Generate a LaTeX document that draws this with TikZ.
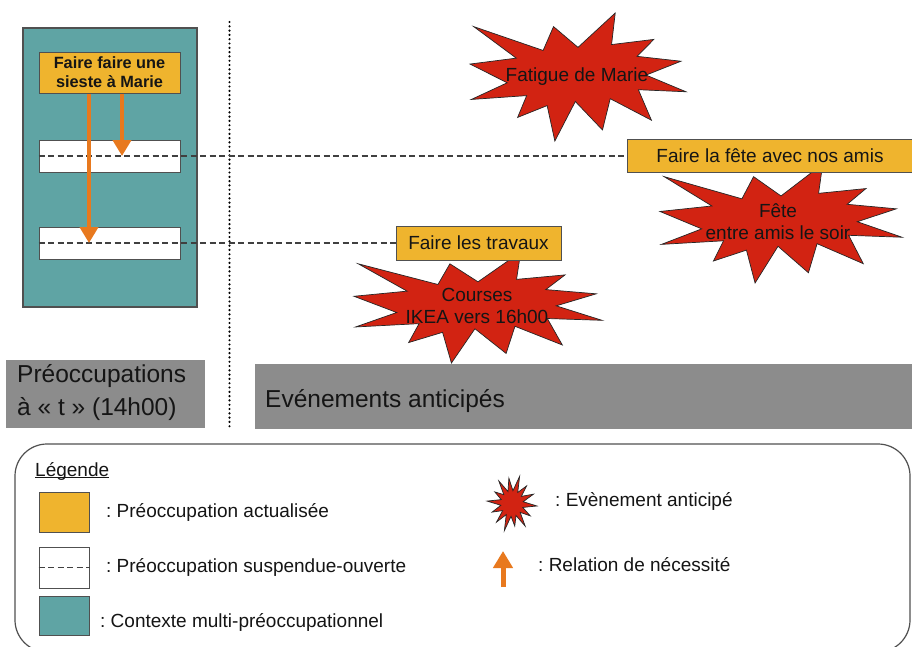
\documentclass[tikz,border=0pt]{standalone}
\usepackage{fontspec}
\setmainfont{Liberation Sans}
\usetikzlibrary{arrows.meta}
\frenchspacing
\definecolor{prefill}{HTML}{EFB42E}
\definecolor{starred}{HTML}{D22312}
\definecolor{ctxteal}{HTML}{5FA4A4}
\definecolor{greybar}{HTML}{8C8C8C}
\definecolor{arroworange}{HTML}{E8791E}
\definecolor{edgegray}{HTML}{505050}
\definecolor{txt}{HTML}{151515}

\newcommand\sealone[4]{%
  \begin{scope}[shift={(#1,#2)}, xscale=#3/216, yscale=#4/216]
    \filldraw[sealfill] (108,58) -- (145.22,0) -- (141.55,53.25) -- (183.80,44.57) -- (167.02,73.15)
      -- (210.97,81.37) -- (176.07,104.75) -- (216,132.90) -- (168.37,129.42) -- (181.45,180.95)
      -- (140.20,144.57) -- (132.47,197.37) -- (105.32,149.35) -- (84.85,216) -- (77.15,156.27)
      -- (47.62,176.17) -- (56.67,139.37) -- (1.35,145.87) -- (37.22,117.75) -- (0,86.15)
      -- (46.27,76.17) -- (3.70,22.95) -- (73.12,63.20) -- (83.52,22.95) -- cycle;
  \end{scope}}
\newcommand\sealsmall[4]{% centre x, centre y, half width, half height
  \begin{scope}[shift={(#1,#2)}, xscale=#3, yscale=#4]
    \filldraw[sealfill] (5:1.0) -- (17.8:0.45) -- (30.7:0.85) -- (43.5:0.45) -- (56.4:0.95)
      -- (69.2:0.45) -- (82.1:0.8) -- (95:0.45) -- (107.8:1.0) -- (120.6:0.45) -- (133.5:0.9)
      -- (146.3:0.45) -- (159.2:0.85) -- (172:0.45) -- (184.9:1.0) -- (197.7:0.45) -- (210.6:0.8)
      -- (223.4:0.45) -- (236.3:0.95) -- (249.1:0.45) -- (262:0.9) -- (274.8:0.45) -- (287.7:1.0)
      -- (300.5:0.45) -- (313.4:0.85) -- (326.2:0.45) -- (339.1:0.92) -- (352:0.45) -- cycle;
  \end{scope}}

\tikzset{
  prebox/.style={draw=edgegray, line width=1pt, fill=prefill, inner sep=0pt, text=txt,
    font=\fontsize{19}{22}\selectfont},
  suspbox/.style={draw=edgegray, line width=1pt, fill=white, inner sep=0pt,
    minimum width=141pt, minimum height=32pt},
  sealfill/.style={fill=starred, draw=black!85, line width=0.7pt},
  dashln/.style={draw=black!75, line width=1.1pt, dash pattern=on 6pt off 3.5pt},
  nec/.style={draw=arroworange, line width=4.5pt, -{Triangle[length=16pt,width=18pt]}},
  barbox/.style={fill=greybar, inner sep=0pt},
  lbl/.style={font=\fontsize{19}{22}\selectfont, text=txt, inner sep=0pt},
  biglbl/.style={font=\fontsize{24.5}{33}\selectfont, text=txt, inner sep=0pt},
}

\begin{document}
\begin{tikzpicture}[x=1pt, y=-1pt]
\path[use as bounding box] (0,0) rectangle (912,646);
\clip (0,0) rectangle (912,646);
\fill[white] (0,0) rectangle (912,646);

% context box
\node[draw=edgegray, line width=1.3pt, fill=ctxteal, minimum width=174pt, minimum height=279pt, inner sep=0pt] (ctx) at (110,167.5) {};

% dotted separator
\coordinate (dtop) at (229.5,22);
\coordinate (dbot) at (229.5,430);
\draw[line width=2.4pt, line cap=round, dash pattern=on 0pt off 4.3pt, black] (dtop) -- (dbot);

% stars
\sealone{470}{13}{216}{128}
\sealone{660}{164}{242}{119}
\sealone{354}{252}{248}{111}

% suspended boxes
\node[suspbox] (susp1) at (109.5,156) {};
\node[suspbox] (susp2) at (109.5,243) {};

% actualised boxes
\node[prebox, minimum width=141pt, minimum height=41pt, align=center,
  font=\fontsize{16.3}{19}\selectfont\bfseries] (sieste) at (109.5,72.5) {Faire faire une\\sieste à Marie};
\node[prebox, minimum width=286pt, minimum height=33pt] (fete) at (770,156) {Faire la fête avec nos amis};
\node[prebox, minimum width=165pt, minimum height=34pt] (travaux) at (478.5,243) {Faire les travaux};

% dashed links
\draw[dashln] (susp1.west) -- (fete.west);
\draw[dashln] (susp2.west) -- (travaux.west);

% star texts
\node[lbl] (fatigue) at (577,77) {Fatigue de Marie};
\node[lbl, align=center] (fetesoir) at (778,222) {Fête\\entre amis le soir};
\node[lbl, align=center] (courses) at (477,306) {Courses\\IKEA vers 16h00};

% necessity arrows
\coordinate (tip1) at (122,156);
\coordinate (tip2) at (89,243);
\draw[nec] (sieste.south -| tip1) -- (tip1);
\draw[nec] (sieste.south -| tip2) -- (tip2);

% grey title bars
\node[barbox, minimum width=199pt, minimum height=68pt] (bar1) at (105.5,394) {};
\node[biglbl, anchor=base west, align=left] (bar1txt) at (17,415) {Préoccupations\\à « t » (14h00)};
\node[barbox, minimum width=658pt, minimum height=65pt] (bar2) at (584,396.5) {};
\node[biglbl, anchor=base west] (bar2txt) at (265,407) {Evénements anticipés};

% legend
\node[draw=edgegray, line width=1.2pt, rounded corners=32pt, minimum width=895pt, minimum height=208pt, inner sep=0pt] (legend) at (462.5,548) {};
\node[lbl, anchor=base west] (legtitle) at (35,476) {\underline{\smash{Légende}}};

\node[draw=edgegray, line width=1pt, fill=prefill, minimum width=50pt, minimum height=40pt, inner sep=0pt] (lg1) at (64,512) {};
\node[lbl, anchor=west] (lg1t) at (106,512) {: Préoccupation actualisée};

\node[draw=edgegray, line width=1pt, fill=white, minimum width=50pt, minimum height=41pt, inner sep=0pt] (lg2) at (64,567.5) {};
\draw[dashln, line width=1pt] (lg2.west) -- (lg2.east);
\node[lbl, anchor=west] (lg2t) at (106,567) {: Préoccupation suspendue-ouverte};

\node[draw=edgegray, line width=1pt, fill=ctxteal, minimum width=50pt, minimum height=39pt, inner sep=0pt] (lg3) at (64,615.5) {};
\node[lbl, anchor=west] (lg3t) at (100,622) {: Contexte multi-préoccupationnel};

\sealsmall{512}{503.5}{25}{28.5}
\node[lbl, anchor=west] (lg4t) at (555,501) {: Evènement anticipé};

\coordinate (la1) at (503,587);
\coordinate (la2) at (503,551);
\draw[draw=arroworange, line width=5pt, -{Triangle[length=17pt,width=19pt]}] (la1) -- (la2);
\node[lbl, anchor=west] (lg5t) at (538,565) {: Relation de nécessité};
\end{tikzpicture}
\end{document}
